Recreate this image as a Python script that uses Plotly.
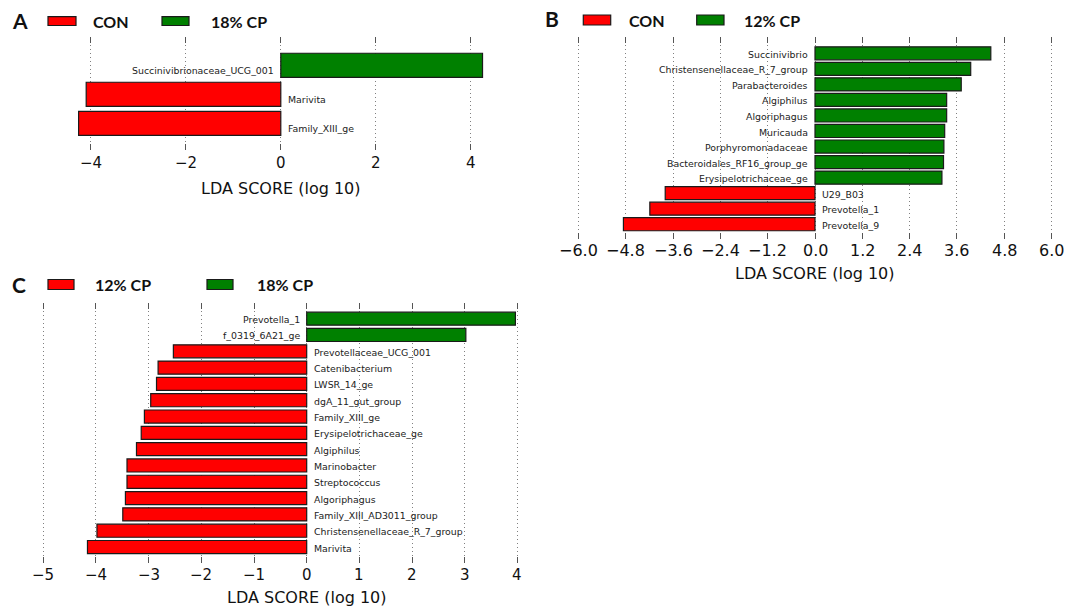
import plotly.graph_objects as go

W, H = 1081, 608

# ---------------- data ----------------
A_labels = ["Succinivibrionaceae_UCG_001", "Marivita", "Family_XIII_ge"]
A_values = [4.25, -4.10, -4.26]
A_groups = ["CON", "18% CP"]

B_labels = ["Succinivibrio", "Christensenellaceae_R_7_group", "Parabacteroides",
            "Algiphilus", "Algoriphagus", "Muricauda", "Porphyromonadaceae",
            "Bacteroidales_RF16_group_ge", "Erysipelotrichaceae_ge",
            "U29_B03", "Prevotella_1", "Prevotella_9"]
B_values = [4.46, 3.95, 3.71, 3.34, 3.34, 3.29, 3.27, 3.26, 3.22, -3.80, -4.19, -4.86]
B_groups = ["CON", "12% CP"]

C_labels = ["Prevotella_1", "f_0319_6A21_ge", "Prevotellaceae_UCG_001", "Catenibacterium",
            "LWSR_14_ge", "dgA_11_gut_group", "Family_XIII_ge", "Erysipelotrichaceae_ge",
            "Algiphilus", "Marinobacter", "Streptococcus", "Algoriphagus",
            "Family_XIII_AD3011_group", "Christensenellaceae_R_7_group", "Marivita"]
C_values = [3.96, 3.02, -2.53, -2.82, -2.85, -2.96, -3.08, -3.14, -3.23,
            -3.41, -3.41, -3.44, -3.49, -3.98, -4.16]
C_groups = ["12% CP", "18% CP"]

A_ticks = [-4, -2, 0, 2, 4]
B_ticks = [-6.0, -4.8, -3.6, -2.4, -1.2, 0.0, 1.2, 2.4, 3.6, 4.8, 6.0]
C_ticks = [-5, -4, -3, -2, -1, 0, 1, 2, 3, 4]

RED = "#FF0000"
GREEN = "#008000"


def px(x):
    return x / W


def py(y):
    return 1 - y / H


# panel geometry (pixels)
panels = [
    dict(name="A", labels=A_labels, values=A_values, groups=A_groups, ticks=A_ticks,
         xr=[-4.5, 4.5], xpx=(67.2, 494.4), ypx=(36.7, 150.0), yr=[2.92, -0.986],
         bw=0.83, tfont=15, tickfmt="d", lab_dy=-5,
         tick_y=163, title_y=188.3, title_x=280.8,
         letter=(20, 20.7), leg=[(48, 76, 16.7, 25.5, 91), (162, 189, 16.7, 25.5, 209)]),
    dict(name="B", labels=B_labels, values=B_values, groups=B_groups, ticks=B_ticks,
         xr=[-6.2, 6.2], xpx=(570.6, 1059.4), ypx=(37.3, 239.3), yr=[11.97, -1.03],
         bw=0.84, tfont=16, tickfmt=".1f", lab_dy=-1,
         tick_y=250.5, title_y=273.3, title_x=815.0,
         letter=(551.5, 18.3), leg=[(583.3, 610.7, 15, 25, 627), (696.7, 724, 15, 25, 741.7)]),
    dict(name="C", labels=C_labels, values=C_values, groups=C_groups, ticks=C_ticks,
         xr=[-5.15, 4.15], xpx=(35.3, 525.4), ypx=(302.7, 563.0), yr=[14.98, -0.98],
         bw=0.80, tfont=15, tickfmt="d", lab_dy=-1,
         tick_y=575, title_y=597, title_x=306.7,
         letter=(19, 284.7), leg=[(48, 74, 279.5, 289.5, 93), (207, 233, 279.5, 289.5, 255)]),
]

fig = go.Figure()
annotations = []
shapes = []
layout = {}

for k, p in enumerate(panels):
    sfx = "" if k == 0 else str(k + 1)
    xref = "x" + sfx
    yref = "y" + sfx
    n = len(p["labels"])
    idx = list(range(n))
    colors = [GREEN if v > 0 else RED for v in p["values"]]
    fig.add_trace(go.Bar(
        x=p["values"], y=idx, orientation="h", width=p["bw"],
        marker=dict(color=colors, line=dict(color="#1a1a1a", width=1.2)),
        xaxis=xref, yaxis=yref, showlegend=False, hoverinfo="skip"))

    layout["xaxis" + sfx] = dict(
        domain=[px(p["xpx"][0]), px(p["xpx"][1])], range=p["xr"], anchor=yref,
        tickvals=p["ticks"], tickformat=p["tickfmt"],
        showgrid=True, gridcolor="#808080", griddash="1px,3px", gridwidth=1,
        zeroline=False, showline=False,
        ticks="inside", ticklen=6, tickwidth=1, tickcolor="#555", mirror="ticks",
        tickfont=dict(family="DejaVu Sans", size=p["tfont"], color="#111"),
        showticklabels=False, fixedrange=True)
    layout["yaxis" + sfx] = dict(
        domain=[py(p["ypx"][1]), py(p["ypx"][0])], range=p["yr"], anchor=xref,
        showgrid=False, zeroline=False, showline=False, showticklabels=False,
        ticks="", fixedrange=True)

    # bar labels
    for i, (lab, v) in enumerate(zip(p["labels"], p["values"])):
        annotations.append(dict(
            x=0, y=i, xref=xref, yref=yref, text=lab, showarrow=False,
            xanchor="right" if v > 0 else "left", yanchor="middle",
            xshift=-5 if v > 0 else 5, yshift=p["lab_dy"],
            font=dict(family="DejaVu Sans", size=9.4, color="#222")))

    # tick labels (placed under axis)
    x0, x1 = p["xpx"]
    for t in p["ticks"]:
        xp = x0 + (t - p["xr"][0]) / (p["xr"][1] - p["xr"][0]) * (x1 - x0)
        txt = format(t, p["tickfmt"]) if p["tickfmt"] != "d" else str(int(t))
        txt = txt.replace("-", "\u2212")
        annotations.append(dict(
            x=px(xp), y=py(p["tick_y"]), xref="paper", yref="paper", text=txt,
            showarrow=False, xanchor="center", yanchor="middle",
            font=dict(family="DejaVu Sans", size=p["tfont"], color="#111")))

    # axis title
    annotations.append(dict(
        x=px(p["title_x"]), y=py(p["title_y"]), xref="paper", yref="paper",
        text="LDA SCORE (log 10)", showarrow=False, xanchor="center", yanchor="middle",
        font=dict(family="DejaVu Sans", size=16, color="#111")))

    # panel letter
    annotations.append(dict(
        x=px(p["letter"][0]), y=py(p["letter"][1]), xref="paper", yref="paper",
        text="<b>%s</b>" % p["name"], showarrow=False, xanchor="center", yanchor="middle",
        font=dict(family="Lato", size=21, color="#111")))

    # legend
    for (lx0, lx1, ly0, ly1, tx), grp, col in zip(p["leg"], p["groups"], [RED, GREEN]):
        shapes.append(dict(type="rect", xref="paper", yref="paper",
                           x0=px(lx0), x1=px(lx1), y0=py(ly1), y1=py(ly0),
                           fillcolor=col, line=dict(color="#1a1a1a", width=1.2)))
        annotations.append(dict(
            x=px(tx), y=py((ly0 + ly1) / 2), xref="paper", yref="paper",
            text="<b>%s</b>" % grp, showarrow=False, xanchor="left", yanchor="middle",
            font=dict(family="Lato", size=16, color="#111")))

fig.update_layout(
    width=W, height=H, margin=dict(l=0, r=0, t=0, b=0),
    paper_bgcolor="white", plot_bgcolor="white",
    bargap=0, annotations=annotations, shapes=shapes, **layout)

fig.write_html("out.html", config={"displayModeBar": False, "staticPlot": True},
               post_script="document.body.style.margin='0';document.body.style.overflow='hidden';")
